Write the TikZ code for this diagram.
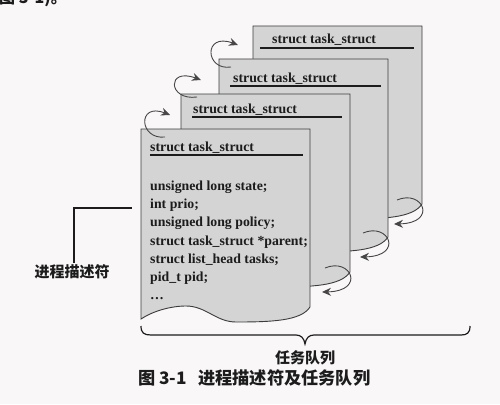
\documentclass[tikz,border=0pt]{standalone}
\usepackage{fontspec}
\setmainfont{Liberation Serif}
\newfontfamily\cjk{Noto Sans CJK SC}
\usetikzlibrary{arrows.meta}
\definecolor{bgcol}{RGB}{249,247,247}
\definecolor{pagefill}{RGB}{212,212,212}
\definecolor{pageline}{RGB}{60,60,60}
\definecolor{ink}{RGB}{28,28,28}
\definecolor{arrcol}{RGB}{70,70,70}
\newcommand\drawpage[2]{%
  \begin{scope}[shift={(#1,#2)}]
    \draw[pagebox] (0,0) -- (169,0) -- (169,178)
      .. controls (160,192) and (130,193) .. (95,193)
      .. controls (75,193) and (65,177) .. (45,177)
      .. controls (30,177) and (12,182) .. (0,190) -- cycle;
  \end{scope}}
\tikzset{
  pagebox/.style={draw=pageline, fill=pagefill, line width=0.9pt},
  uline/.style={draw=ink, line width=1.1pt},
  ttl/.style={font=\fontsize{13.8}{16}\selectfont\bfseries, text=ink, inner sep=0pt, anchor=base west},
  code/.style={font=\fontsize{13.8}{16}\selectfont\bfseries, text=ink, inner sep=0pt, anchor=base west},
  cjklabel/.style={font=\cjk\bfseries\fontsize{15}{18}\selectfont, text=ink, inner sep=0pt},
  caption/.style={font=\cjk\bfseries\fontsize{17.2}{20}\selectfont, text=ink, inner sep=0pt},
  curarrow/.style={draw=arrcol, line width=0.9pt, -{Stealth[length=9pt,width=8pt,inset=3pt]}},
  bracepath/.style={draw=ink, line width=1.2pt},
  leadline/.style={draw=ink, line width=1.1pt},
}
\begin{document}
\begin{tikzpicture}[x=1pt,y=-1pt]
\useasboundingbox (0,0) rectangle (500,404);
\clip (0,0) rectangle (500,404);
\fill[bgcol] (0,0) rectangle (500,404);

% cut-off text fragment at the top edge
\node[font=\cjk\bfseries\fontsize{16}{18}\selectfont, text=ink, inner sep=0pt, anchor=south west] (frag) at (-1,7) {图 3-1)。};

% pages, back to front
\drawpage{253}{26}
\node[ttl] (t4) at (272,44) {struct task\_struct};
\draw[uline] (260,48) -- (414,48);

\drawpage{219}{59}
\node[ttl] (t3) at (233,82) {struct task\_struct};
\draw[uline] (230,86) -- (381,86);

\drawpage{181}{94}
\node[ttl] (t2) at (193,113) {struct task\_struct};
\draw[uline] (192,117) -- (342,117);

\drawpage{141}{129}
\node[ttl] (t1) at (150,151) {struct task\_struct};
\draw[uline] (150,155) -- (303,155);

\node[code] (c1) at (150,190.5) {unsigned long state;};
\node[code] (c2) at (150,208.7) {int prio;};
\node[code] (c3) at (150,226.9) {unsigned long policy;};
\node[code] (c4) at (150,245.1) {struct task\_struct *parent;};
\node[code] (c5) at (150,263.3) {struct list\_head tasks;};
\node[code] (c6) at (150,281.5) {pid\_t pid;};
\node[code] (c7) at (150,299.7) {…};

% top-left curved arrows
\coordinate (a1s) at (165,137);
\coordinate (a1t) at (170,115);
\draw[curarrow] (a1s) .. controls (139,140) and (137,102) .. (a1t);
\coordinate (a2s) at (197,97);
\coordinate (a2t) at (201,80);
\draw[curarrow] (a2s) .. controls (168,101) and (166,67) .. (a2t);
\coordinate (a3s) at (231,67);
\coordinate (a3t) at (238,45);
\draw[curarrow] (a3s) .. controls (205,71) and (203,32) .. (a3t);

% bottom-right curved arrows
\foreach \L/\T/\n in {181/94/b1, 219/59/b2, 253/26/b3}{
  \coordinate (\n s) at (\L+144,\T+174);
  \coordinate (\n t) at (\L+141,\T+198);
  \draw[curarrow] (\n s) .. controls (\L+170,\T+163) and (\L+185,\T+197) .. (\n t);
}

% label for process descriptor
\node[cjklabel] (desc) at (72,272) {进程描述符};
\coordinate (ld1) at (74,263);
\coordinate (ld2) at (74,208);
\coordinate (ld3) at (132,208);
\draw[leadline] (ld1) -- (ld2) -- (ld3);

% brace
\coordinate (bl) at (141,326);
\coordinate (bc) at (305,344);
\coordinate (br) at (470,326);
\draw[bracepath] (bl) .. controls (141,333) and (144,335) .. (151,335) -- (296,335)
  .. controls (301,335) and (304,338) .. (bc)
  .. controls (306,338) and (309,335) .. (314,335) -- (461,335)
  .. controls (467,335) and (470,333) .. (br);
\node[cjklabel] (queue) at (305,358) {任务队列};

% caption
\node[caption, anchor=east] (fig) at (187,378) {图 3-1};
\node[caption, anchor=west] (captext) at (198,378) {进程描述符及任务队列};
\end{tikzpicture}
\end{document}
